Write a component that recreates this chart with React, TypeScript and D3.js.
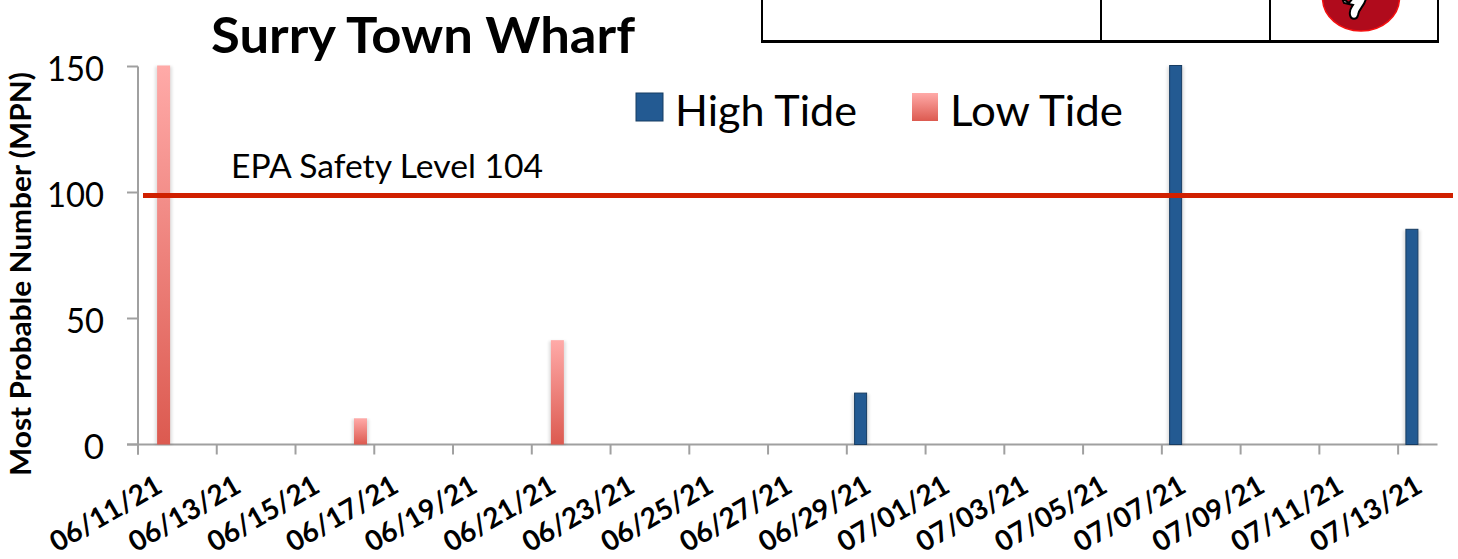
import React from 'react';
import * as d3 from 'd3';

const startDay = new Date(2021, 5, 11);
const endDay = new Date(2021, 6, 14);
const days = d3.timeDay.range(startDay, endDay);
const fmt = d3.timeFormat('%m/%d/%y');
const highTideDates = ['06/29/21', '07/07/21', '07/13/21'];
const highTideValues = [20, 150, 85];
const lowTideDates = ['06/11/21', '06/16/21', '06/21/21'];
const lowTideValues = [150, 10, 41];
const yTicks = [0, 50, 100, 150];
const epaLineValue = 99;
const epaLabel = 'EPA Safety Level 104';
const title = 'Surry Town Wharf';
const yTitle = 'Most Probable Number (MPN)';
const FONT = 'Lato, "Open Sans", sans-serif';

export default function App() {
  const x = d3.scaleBand<string>().domain(days.map(fmt)).range([138, 1437.5]);
  const y = d3.scaleLinear().domain([0, 150]).range([444.5, 66.5]);
  const tickDays = days.filter((_, i) => i % 2 === 0);
  const bar = (date: string, value: number, off: number, fill: string, stroke: string) => {
    const w = stroke === 'none' ? 13 : 12;
    const cx = (x(date) as number) + x.bandwidth() * off;
    return (
      <g key={date}>
        <rect x={cx - 8.5} y={y(value)} width={17} height={y(0) - y(value)} fill="#000" opacity={0.12} filter="url(#blur)" />
        <rect x={cx - w / 2} y={y(value) - 1} width={w} height={y(0) - y(value) + 1} fill={fill} stroke={stroke} strokeWidth={stroke === 'none' ? 0 : 1} />
      </g>
    );
  };
  return (
    <svg width={1458} height={559} style={{ position: 'absolute', left: 0, top: 0, background: '#fff', fontFamily: FONT }}>
      <defs>
        <linearGradient id="low" x1="0" y1="0" x2="0" y2="1">
          <stop offset="0" stopColor="#ffaaa8" />
          <stop offset="1" stopColor="#dc5a50" />
        </linearGradient>
        <filter id="blur" x="-50%" y="-5%" width="200%" height="110%"><feGaussianBlur stdDeviation="1.5" /></filter>
      </defs>

      {/* table fragment */}
      <g stroke="#000" fill="none">
        <path d="M762 0V42M1101 0V42M1270 0V42M1438 0V42" strokeWidth={2} />
        <path d="M761 41.5H1439" strokeWidth={3} />
      </g>
      <ellipse cx={1361} cy={-2} rx={38.5} ry={33} fill="#b00b1c" stroke="#f41010" strokeWidth={1.5} />
      <path d="M1342 -2 L1349 3 L1353 -2 L1366 -2 C1365 6 1359 8 1358 15 C1357 20 1351 20 1350 15 C1349 10 1351 8 1353 5 L1344 3 Z" fill="#fff" stroke="#000" strokeWidth={2} />

      <text x={211} y={53} fontSize={49} fontWeight={700} fill="#000" textLength={424} lengthAdjust="spacingAndGlyphs">{title}</text>

      {/* axes */}
      <g stroke="#a0a0a0" strokeWidth={2} fill="none">
        <line x1={138} x2={138} y1={y(150)} y2={y(0) + 10} />
        <line x1={127} x2={1437.5} y1={y(0)} y2={y(0)} />
        {yTicks.map(t => <line key={t} x1={127} x2={138} y1={y(t)} y2={y(t)} />)}
        {tickDays.map(d => <line key={+d} x1={x(fmt(d))} x2={x(fmt(d))} y1={y(0)} y2={y(0) + 10} />)}
      </g>

      {yTicks.map(t => (
        <text key={t} x={104} y={y(t) + 14} fontSize={35} textAnchor="end" fill="#000" textLength={t === 0 ? undefined : t >= 100 ? 57 : 38} lengthAdjust="spacingAndGlyphs">{t}</text>
      ))}
      <text transform="translate(31,274) rotate(-90)" fontSize={28} fontWeight={700} textAnchor="middle" fill="#000" textLength={404} lengthAdjust="spacingAndGlyphs">{yTitle}</text>

      {tickDays.map(d => (
        <text key={+d} transform={`translate(${(x(fmt(d)) as number) + 26},${491}) rotate(-30)`} fontSize={28} fontWeight={700} textAnchor="end" fill="#000">{fmt(d)}</text>
      ))}

      {lowTideDates.map((d, i) => bar(d, lowTideValues[i], 0.65, 'url(#low)', 'none'))}
      {highTideDates.map((d, i) => bar(d, highTideValues[i], 0.35, '#235a92', '#173c62'))}

      <line x1={143} x2={1453} y1={y(epaLineValue) + 0.5} y2={y(epaLineValue) + 0.5} stroke="#d02000" strokeWidth={5} />
      <text x={231} y={178} fontSize={33} fill="#000" textLength={312} lengthAdjust="spacingAndGlyphs">{epaLabel}</text>

      {/* legend */}
      <rect x={636} y={93} width={27} height={28} fill="#235a92" stroke="#173c62" strokeWidth={1} />
      <text x={675} y={126} fontSize={43} fill="#000" textLength={182} lengthAdjust="spacingAndGlyphs">High Tide</text>
      <rect x={912} y={93} width={26} height={28} fill="url(#low)" />
      <text x={950} y={126} fontSize={43} fill="#000" textLength={173} lengthAdjust="spacingAndGlyphs">Low Tide</text>
    </svg>
  );
}
